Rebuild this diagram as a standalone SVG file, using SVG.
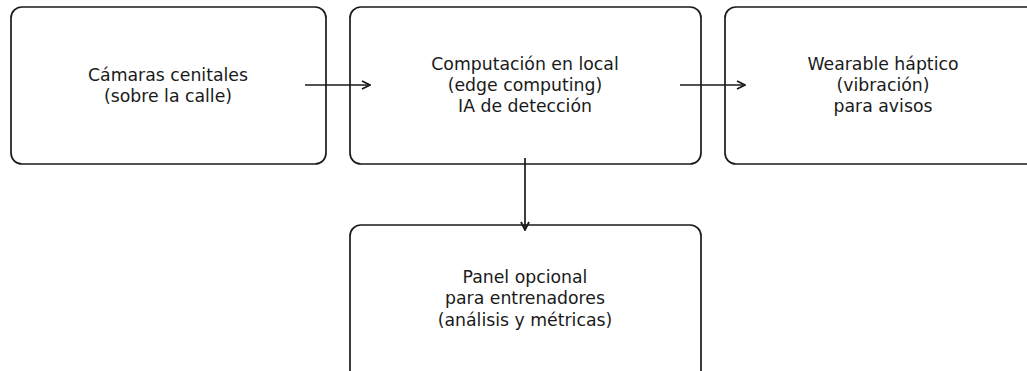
<svg xmlns="http://www.w3.org/2000/svg" width="1027" height="371" viewBox="0 0 1027 371">
  <style>
    .box { fill: #ffffff; stroke: #1a1a1a; stroke-width: 1.7; }
    .label { font-family: "DejaVu Sans", sans-serif; font-size: 17.3px; fill: #1a1a1a; text-anchor: middle; }
    .edge { fill: none; stroke: #1a1a1a; stroke-width: 1.7; }
  </style>
  <defs>
    <marker id="arrow" viewBox="0 0 10 10" refX="9" refY="5" markerWidth="10" markerHeight="10" markerUnits="userSpaceOnUse" orient="auto">
      <path d="M1,1 L9,5 L1,9" fill="none" stroke="#1a1a1a" stroke-width="1.8"/>
    </marker>
  </defs>
  <rect width="1027" height="371" fill="#ffffff"/>

  <g id="camaras">
    <rect class="box" x="11" y="7" width="315" height="157" rx="11"/>
    <text class="label" x="168" y="81">Cámaras cenitales</text>
    <text class="label" x="168" y="102">(sobre la calle)</text>
  </g>

  <g id="edge-computing">
    <rect class="box" x="350" y="7" width="351" height="157" rx="11"/>
    <text class="label" x="525" y="70">Computación en local</text>
    <text class="label" x="525" y="91">(edge computing)</text>
    <text class="label" x="525" y="112">IA de detección</text>
  </g>

  <g id="wearable">
    <rect class="box" x="725" y="7" width="318" height="157" rx="11"/>
    <text class="label" x="883" y="70">Wearable háptico</text>
    <text class="label" x="883" y="91">(vibración)</text>
    <text class="label" x="883" y="112">para avisos</text>
  </g>

  <g id="panel">
    <rect class="box" x="350" y="225" width="351" height="160" rx="11"/>
    <text class="label" x="525" y="283">Panel opcional</text>
    <text class="label" x="525" y="304">para entrenadores</text>
    <text class="label" x="525" y="326">(análisis y métricas)</text>
  </g>

  <g id="connectors">
    <line class="edge" x1="305" y1="85" x2="370" y2="85" marker-end="url(#arrow)"/>
    <line class="edge" x1="680" y1="85" x2="745" y2="85" marker-end="url(#arrow)"/>
    <line class="edge" x1="525" y1="158" x2="525" y2="230" marker-end="url(#arrow)"/>
  </g>
</svg>
